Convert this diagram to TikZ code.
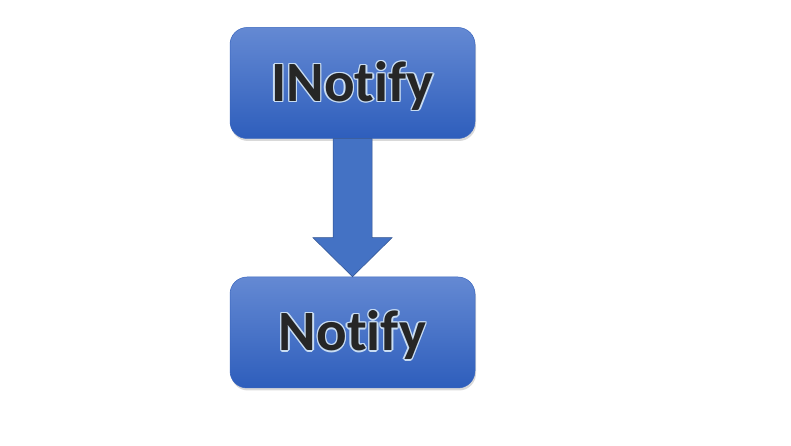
\documentclass[tikz,border=0pt]{standalone}
\usepackage{fontspec}
\setmainfont{Carlito}[Ligatures={NoCommon}]
\usetikzlibrary{positioning,calc,shadows}

\definecolor{boxtop}{HTML}{6489D3}
\definecolor{boxbot}{HTML}{2E5EBC}
\definecolor{boxedge}{HTML}{3A66BE}
\definecolor{arrowfill}{HTML}{4472C4}
\definecolor{arrowedge}{HTML}{2F528F}
\definecolor{wordc}{HTML}{262626}
\definecolor{glowc}{HTML}{C9DDF3}

\newcommand{\glowword}[1]{%
	\leavevmode
	\rlap{\textcolor{glowc}{\hspace{1.4pt}#1}}%
	\rlap{\textcolor{glowc}{\hspace{-1.4pt}#1}}%
	\rlap{\textcolor{glowc}{\raisebox{1.4pt}{#1}}}%
	\rlap{\textcolor{glowc}{\raisebox{-1.4pt}{#1}}}%
	\rlap{\textcolor{glowc}{\hspace{1pt}\raisebox{1pt}{#1}}}%
	\rlap{\textcolor{glowc}{\hspace{-1pt}\raisebox{1pt}{#1}}}%
	\rlap{\textcolor{glowc}{\hspace{1pt}\raisebox{-1pt}{#1}}}%
	\rlap{\textcolor{glowc}{\hspace{-1pt}\raisebox{-1pt}{#1}}}%
	\textcolor{wordc}{#1}}

\tikzset{
	box/.style={rounded corners=17pt, minimum width=245pt, minimum height=111pt,
		draw=boxedge, line width=0.5pt, top color=boxtop, bottom color=boxbot,
		drop shadow={shadow xshift=1pt, shadow yshift=-2.5pt, opacity=0.3},
		font=\fontsize{57}{64}\selectfont\bfseries, text height=37pt, text depth=0pt},
	flow/.style={fill=arrowfill, draw=arrowedge, line width=0.5pt}
}

\begin{document}
\begin{tikzpicture}[x=1pt, y=1pt]
	\useasboundingbox (0,0) rectangle (791,446);

	\node[box] (inotify) at (352.5,363) {\glowword{INotify}};
	\node[box] (notify) at (352.5,113.5) {\glowword{Notify}};

	% block arrow between the two boxes
	\draw[flow] ($(inotify.south)+(-19.5,0)$) -- ($(notify.north)+(-19.5,39)$)
		-- ($(notify.north)+(-39.5,39)$) -- (notify.north)
		-- ($(notify.north)+(39.5,39)$) -- ($(notify.north)+(19.5,39)$)
		-- ($(inotify.south)+(19.5,0)$) -- cycle;
\end{tikzpicture}
\end{document}
